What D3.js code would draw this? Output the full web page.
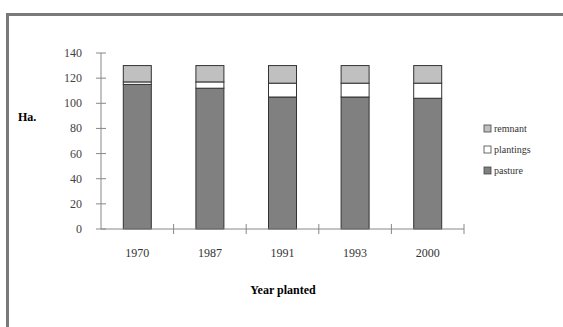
<!DOCTYPE html>
<html lang="en">
<head>
    <meta charset="UTF-8">
    <title>Year planted</title>
    <script src="https://d3js.org/d3.v7.min.js"></script>
    <style>
        body, html {
            margin: 0px;
            background: #fff;
            font-family: 'Liberation Serif', 'Times New Roman', serif;
        }
    </style>
</head>
<body>
    <div id="chart"></div>
    <script>
        const years = ["1970", "1987", "1991", "1993", "2000"]
        const pasture = [115, 112, 105, 105, 104]
        const plantings = [2, 5, 11, 11, 12]
        const remnant = [13, 13, 14, 14, 14]
        const seriesNames = ["pasture", "plantings", "remnant"]
        const seriesColors = ["#808080", "#ffffff", "#c0c0c0"]
        const yTicks = [0, 20, 40, 60, 80, 100, 120, 140]

        const width = 563, height = 327

        const svg = d3.select("#chart")
            .append("svg")
            .attr("width", width)
            .attr("height", height)

        // outer frame (only top/left visible)
        svg.append("rect")
            .attr("x", 7.5).attr("y", 14.5)
            .attr("width", 600).attr("height", 400)
            .style("fill", "none")
            .style("stroke", "#7a7a7a")
            .style("stroke-width", 3)

        const x = d3.scaleBand().domain(years).range([101, 464]).paddingInner(0).paddingOuter(0)
        const y = d3.scaleLinear().domain([0, 140]).range([229, 53])

        const table = years.map((yr, i) => ({ year: yr, pasture: pasture[i], plantings: plantings[i], remnant: remnant[i] }))
        const stacked = d3.stack().keys(seriesNames)(table)

        const barW = 28
        svg.append("g")
            .selectAll("g")
            .data(stacked)
            .enter()
            .append("g")
            .style("fill", (d, i) => seriesColors[i])
            .selectAll("rect")
            .data(d => d)
            .enter()
            .append("rect")
            .attr("x", d => x(d.data.year) + x.bandwidth() / 2 - barW / 2)
            .attr("y", d => y(d[1]))
            .attr("width", barW)
            .attr("height", d => y(d[0]) - y(d[1]))
            .style("stroke", "#333")
            .style("stroke-width", 1)

        // y axis with cross ticks
        const axisColor = "#888"
        svg.append("line")
            .attr("x1", 101).attr("x2", 101)
            .attr("y1", y(140)).attr("y2", y(0))
            .style("stroke", axisColor)
        svg.append("g")
            .selectAll("line")
            .data(yTicks)
            .enter()
            .append("line")
            .attr("x1", 96).attr("x2", 106)
            .attr("y1", d => y(d)).attr("y2", d => y(d))
            .style("stroke", axisColor)
        svg.append("g")
            .selectAll("text")
            .data(yTicks)
            .enter()
            .append("text")
            .attr("x", 82)
            .attr("y", d => y(d) + 4)
            .attr("text-anchor", "end")
            .style("font-size", "12px")
            .style("fill", "#444")
            .text(d => d)

        // x axis
        svg.append("line")
            .attr("x1", 101).attr("x2", 464)
            .attr("y1", y(0)).attr("y2", y(0))
            .style("stroke", axisColor)
        const xEdges = years.map(d => x(d) + x.bandwidth())
        svg.append("g")
            .selectAll("line")
            .data(xEdges)
            .enter()
            .append("line")
            .attr("x1", d => d).attr("x2", d => d)
            .attr("y1", y(0) - 5).attr("y2", y(0) + 5)
            .style("stroke", axisColor)
        svg.append("g")
            .selectAll("text")
            .data(years)
            .enter()
            .append("text")
            .attr("x", d => x(d) + x.bandwidth() / 2)
            .attr("y", 257)
            .attr("text-anchor", "middle")
            .style("font-size", "12px")
            .style("fill", "#333")
            .text(d => d)

        svg.append("text")
            .attr("x", 283).attr("y", 294)
            .attr("text-anchor", "middle")
            .style("font-size", "12px")
            .style("font-weight", "bold")
            .text("Year planted")

        svg.append("text")
            .attr("x", 18).attr("y", 121)
            .style("font-size", "12px")
            .style("font-weight", "bold")
            .text("Ha.")

        // legend (top to bottom: remnant, plantings, pasture)
        const legendItems = seriesNames.map((n, i) => ({ name: n, color: seriesColors[i] })).reverse()
        const lg = svg.append("g")
            .selectAll("g")
            .data(legendItems)
            .enter()
            .append("g")
            .attr("transform", (d, i) => `translate(484, ${129 + i * 21})`)
        lg.append("rect")
            .attr("x", 0).attr("y", -4)
            .attr("width", 7).attr("height", 7)
            .style("fill", d => d.color)
            .style("stroke", "#444")
            .style("stroke-width", 0.8)
        lg.append("text")
            .attr("x", 10).attr("y", 3)
            .style("font-size", "10px")
            .style("fill", "#333")
            .text(d => d.name)
    </script>
</body>
</html>
